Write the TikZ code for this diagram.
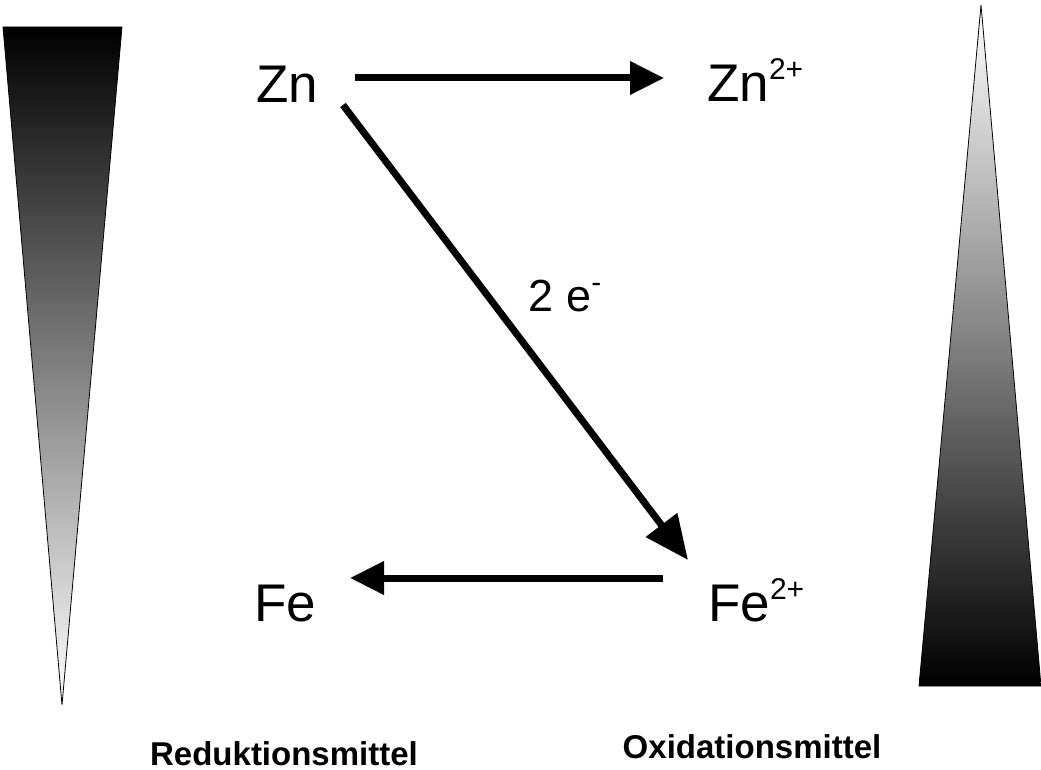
\documentclass[tikz,border=0pt]{standalone}
\usepackage{fontspec}
\setmainfont{Liberation Sans}
\usetikzlibrary{arrows.meta}
\newcommand{\supr}[1]{\raisebox{0.42em}{\fontsize{30}{30}\selectfont #1}}
\begin{document}
\begin{tikzpicture}[x=1pt,y=-1pt,
  chem/.style={font=\fontsize{53}{58}\selectfont,inner sep=0pt},
  lbl/.style={font=\bfseries\fontsize{33}{36}\selectfont,inner sep=0pt},
  arr/.style={line width=7pt,-{Triangle[length=34pt,width=32pt]}},
  darr/.style={line width=7pt,-{Triangle[length=44pt,width=38pt]}}]
\useasboundingbox (0,0) rectangle (1041,770);
\begin{scope}
\clip (3,27) -- (122,27) -- (62,705) -- cycle;
\shade[top color=black,bottom color=white] (3,27) rectangle (122,705);
\end{scope}
\draw[line width=0.8pt] (3,27) -- (122,27) -- (62,705) -- cycle;
\begin{scope}
\clip (981,5) -- (1041,686) -- (919,686) -- cycle;
\shade[top color=white,bottom color=black] (919,5) rectangle (1041,686);
\end{scope}
\draw[line width=0.8pt] (981,5) -- (1041,686) -- (919,686) -- cycle;
\node[chem] (zn) at (287,84) {Zn};
\node[chem,anchor=west] (zn2) at (707,80) {Zn\supr{2+}};
\node[chem] (fe) at (285,604) {Fe};
\node[chem,anchor=west] (fe2) at (708,600) {Fe\supr{2+}};
\node[chem,font=\fontsize{45}{50}\selectfont] (e) at (565,296) {2 e\supr{-}};
\coordinate (a1) at (355,78); \coordinate (a2) at (664,78);
\coordinate (b1) at (343,105); \coordinate (b2) at (688,560);
\coordinate (c1) at (663,578); \coordinate (c2) at (350,578);
\draw[arr] (a1) -- (a2);
\draw[darr] (b1) -- (b2);
\draw[arr] (c1) -- (c2);
\node[lbl] (red) at (284,754) {Reduktionsmittel};
\node[lbl] (ox) at (752,747) {Oxidationsmittel};
\end{tikzpicture}
\end{document}
